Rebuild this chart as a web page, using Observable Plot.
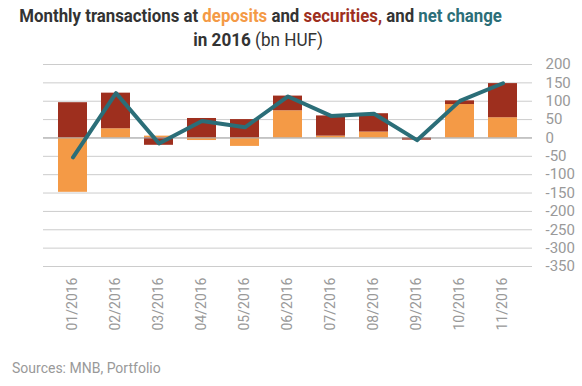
<!DOCTYPE html>
<html>
<head>
<meta charset="utf-8">
<script src="https://cdn.jsdelivr.net/npm/d3@7"></script>
<script src="https://cdn.jsdelivr.net/npm/@observablehq/plot@0.6"></script>
<style>
  html, body { margin: 0; padding: 0; background: #fff; }
  #wrap { position: relative; width: 582px; height: 386px; overflow: hidden; font-family: Roboto, sans-serif; }
  #title { position: absolute; left: 0; top: 4px; width: 516px; text-align: center; font-size: 19px; line-height: 24px; color: #333; }
  #title .b { font-weight: 700; }
  #title .l1 { display: inline-block; transform: translateX(-12px) scaleX(0.885); transform-origin: center; white-space: nowrap; font-weight: 700; }
  #title .l2 { display: inline-block; transform: scaleX(0.9); transform-origin: center; white-space: nowrap; }
  #chart { position: absolute; left: 0; top: 52px; }
  #source { position: absolute; left: 12px; top: 360px; font-size: 14px; color: #999; }
</style>
</head>
<body>
<div id="wrap">
  <div id="title">
    <span class="l1">Monthly transactions at <span style="color:#F49A46">deposits</span> and <span style="color:#9E2F1E">securities,</span> and <span style="color:#2B6E78">net change</span></span><br>
    <span class="l2"><span class="b">in 2016</span> (bn HUF)</span>
  </div>
  <div id="chart"></div>
  <div id="source">Sources: MNB, Portfolio</div>
</div>
<script>
const months = ["01/2016","02/2016","03/2016","04/2016","05/2016","06/2016","07/2016","08/2016","09/2016","10/2016","11/2016"];
const deposits = [-148, 25, 5, -7, -23, 74, 5, 16, 0, 91, 55];
const securities = [96, 97, -20, 53, 50, 40, 55, 50, -6, 10, 93];
const netChange = [-53, 122, -15, 46, 29, 113, 60, 66, -6, 101, 149];
const yTicks = [200, 150, 100, 50, 0, -50, -100, -150, -200, -250, -300, -350];

const rows = [];
months.forEach((m, i) => rows.push({month: m, series: "deposits", value: deposits[i]}));
months.forEach((m, i) => rows.push({month: m, series: "securities", value: securities[i]}));
const net = months.map((m, i) => ({month: m, value: netChange[i]}));

const chart = Plot.plot({
  width: 582,
  height: 290,
  marginTop: 12,
  marginBottom: 76,
  marginLeft: 43,
  marginRight: 50,
  style: {fontFamily: "Roboto, sans-serif", fontSize: "14px", color: "#999", background: "transparent"},
  x: {domain: months, padding: 0.33, label: null, axis: null},
  y: {domain: [-350, 200], label: null, axis: null},
  color: {domain: ["deposits", "securities"], range: ["#F49A46", "#9E2F1E"]},
  marks: [
    Plot.gridY(yTicks, {stroke: "#cccccc", strokeOpacity: 1}),
    Plot.barY(rows, Plot.stackY({x: "month", y: "value", fill: "series", order: null})),
    Plot.ruleY([0], {stroke: "#aaaaaa"}),
    Plot.lineY(net, {x: "month", y: "value", stroke: "#2B6E78", strokeWidth: 4}),
    Plot.axisY(yTicks, {anchor: "right", tickSize: 0, tickPadding: 13, fontSize: 15, label: null, tickFormat: d => d < 0 ? "-" + Math.abs(d) : String(d)}),
    Plot.axisX({anchor: "bottom", tickSize: 0, tickPadding: 11, tickRotate: -90, label: null})
  ]
});
document.getElementById("chart").appendChild(chart);
</script>
</body>
</html>
